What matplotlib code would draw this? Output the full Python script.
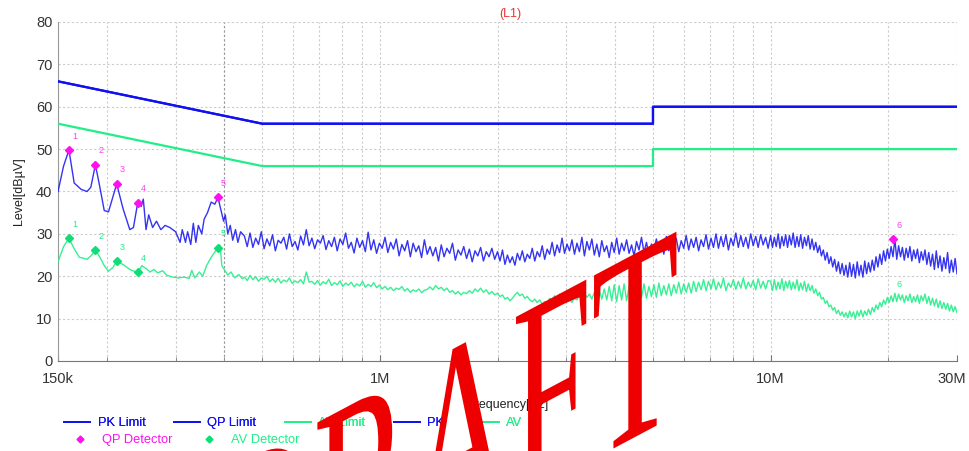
import numpy as np
import matplotlib
matplotlib.use("Agg")
import matplotlib.pyplot as plt
from matplotlib.lines import Line2D
from matplotlib.textpath import TextPath
from matplotlib.patches import PathPatch
from matplotlib.font_manager import FontProperties
from matplotlib.transforms import Affine2D, ScaledTranslation

plt.rcParams['font.family'] = ['Liberation Sans', 'DejaVu Sans']

# ---- limit lines (MHz, dBuV)
limit_f = [0.15, 0.5, 0.5, 5.0, 5.0, 30.0]
pk_limit = [66, 56, 56, 56, 60, 60]
qp_limit = [66, 56, 56, 56, 60, 60]
av_limit = [56, 46, 46, 46, 50, 50]

# ---- PK trace, low band read point by point
pk_low_f = [0.150, 0.155, 0.160, 0.165, 0.172, 0.178, 0.182, 0.187, 0.192, 0.197,
            0.202, 0.207, 0.212, 0.220, 0.229, 0.234, 0.240, 0.245, 0.248, 0.252,
            0.256, 0.262, 0.268, 0.275, 0.282, 0.290, 0.300, 0.308, 0.312, 0.318,
            0.322, 0.328, 0.333, 0.338, 0.343, 0.350, 0.355, 0.362, 0.370, 0.378,
            0.385, 0.392, 0.398, 0.402, 0.408, 0.414, 0.420, 0.427, 0.433, 0.440]
pk_low = [40.0, 46.0, 49.8, 42.0, 40.5, 40.0, 41.0, 46.3, 41.0, 35.5,
          35.2, 38.5, 41.8, 36.0, 31.0, 31.5, 37.4, 36.5, 38.2, 31.0,
          34.5, 31.5, 33.0, 31.0, 32.0, 31.5, 30.5, 28.0, 31.0, 28.0,
          30.5, 27.5, 32.5, 28.0, 32.0, 30.0, 33.5, 35.0, 37.5, 37.0,
          38.6, 35.5, 33.0, 34.5, 30.0, 32.0, 28.5, 31.0, 28.0, 30.5]

# ---- PK trace, swept segments between seg_edges
pk_seg_b = [29.5, 27.0, 30.2, 26.8, 29.0, 27.5, 30.5, 26.5, 28.8, 27.2,
            29.8, 26.0, 28.5, 27.8, 29.2, 26.4, 30.0, 27.0, 28.2, 26.2,
            29.5, 27.4, 31.0, 27.2, 29.0, 26.5, 28.6, 27.8, 29.6, 26.3,
            28.4, 27.0, 29.2, 26.0, 28.8, 27.5, 30.2, 26.6, 28.0, 25.5,
            29.0, 26.8, 28.4, 25.8, 30.4, 26.2, 28.6, 25.4, 27.8, 26.6,
            29.2, 25.6, 28.0, 26.4, 28.8, 24.8, 27.5, 26.0, 28.4, 24.6,
            27.8, 25.8, 27.2, 24.4, 28.6, 25.2, 27.0, 24.8, 26.8, 23.6,
            27.4, 24.6, 26.6, 25.4, 27.8, 23.8, 26.2, 25.0, 27.0, 24.2,
            26.4, 23.4, 26.0, 24.8, 26.8, 23.6, 25.8, 24.6, 26.6, 24.0]
pk_seg_c = [25.8, 23.6, 26.2, 22.8, 25.0, 23.2, 24.6, 22.6, 25.4, 23.8,
            26.0, 23.4, 25.2, 24.2, 26.6, 23.6, 25.8, 24.6, 27.2, 24.0,
            26.4, 25.2, 28.0, 24.8, 27.4, 25.6, 29.0, 25.4, 27.6, 26.0,
            28.6, 25.2, 27.8, 25.8, 29.2, 24.8, 28.2, 26.2, 28.8, 25.0,
            27.6, 24.6, 28.4, 25.8, 27.2, 24.4, 28.0, 25.6, 29.0, 25.2,
            27.8, 26.0, 28.6, 25.4, 27.4, 24.8, 28.2, 26.2, 29.2, 25.6,
            28.0, 25.0, 27.6, 26.4, 28.8, 25.8, 28.2, 25.2, 29.4, 26.0,
            28.6, 26.4, 29.0, 25.8, 28.4, 26.6, 29.6, 26.2, 28.8, 26.8,
            29.2, 26.0, 28.6, 27.0, 29.8, 26.4, 29.0, 26.8, 30.0, 26.6,
            29.4, 27.0, 29.8, 26.2, 29.0, 27.2, 30.2, 26.8, 29.6, 27.0,
            29.2, 26.6, 30.0, 27.2, 29.4, 26.8, 29.8, 27.4, 29.2, 26.6]
pk_seg_d = [29.6, 26.8, 29.2, 27.0, 30.0, 26.6, 29.4, 27.2, 29.8, 26.8,
            29.6, 27.4, 30.2, 26.8, 29.4, 27.0, 29.8, 26.6, 29.2, 27.2,
            29.6, 26.4, 28.8, 26.2,
            28.0, 25.6, 27.2, 24.8, 26.2, 23.8, 25.6, 23.0, 24.6, 22.2,
            24.0, 21.2, 23.4, 20.6, 23.0, 20.2, 22.6,
            19.8, 23.2, 20.0, 22.8, 19.6, 23.4, 20.2, 22.6, 19.8, 23.6, 20.6, 23.2,
            21.0, 23.8, 21.4, 24.6, 22.2, 25.2, 22.8, 26.0, 23.6, 26.4, 24.2, 27.0, 24.6,
            28.8, 24.0, 27.2, 24.6, 26.8, 23.8, 26.6, 24.4, 27.0, 23.6, 26.2, 24.2,
            26.4, 23.2, 25.8, 23.8, 26.2,
            22.8, 25.6, 22.4, 25.2, 21.6, 26.0, 22.0, 24.8, 21.2, 24.4, 21.8, 25.6,
            20.8, 23.8, 21.0, 24.2, 20.6]

# ---- AV trace
av_low_f = [0.150, 0.155, 0.160, 0.165, 0.170, 0.178, 0.183, 0.187, 0.192, 0.197,
            0.202, 0.207, 0.212, 0.220, 0.230, 0.240, 0.246, 0.252, 0.258, 0.264,
            0.270, 0.278, 0.285, 0.295, 0.305, 0.315, 0.325, 0.330, 0.336, 0.345,
            0.352, 0.360, 0.370, 0.380, 0.385, 0.390, 0.394, 0.400, 0.408, 0.416,
            0.425, 0.435, 0.445]
av_low = [23.4, 27.0, 29.0, 26.5, 24.5, 24.0, 25.0, 26.2, 24.5, 22.5,
          21.2, 22.0, 23.5, 22.8, 21.5, 20.9, 22.5, 21.8, 21.0, 21.6,
          20.8, 21.3, 20.2, 19.8, 19.6, 19.8, 19.5, 21.4, 19.6, 21.0,
          20.0, 22.5, 24.5, 26.0, 26.7, 27.3, 22.5, 21.5, 20.3, 21.0,
          19.6, 20.4, 19.4]
av_seg_b = [19.8, 19.0, 20.2, 19.2, 19.9, 18.8, 19.6, 19.3, 20.0, 18.7,
            19.4, 18.6, 19.5, 18.4, 19.1, 18.7, 19.6, 18.3, 18.9, 18.5,
            19.2, 18.2, 21.0, 18.6, 18.8, 18.1, 19.0, 17.9, 18.7, 18.2,
            19.3, 17.8, 18.5, 18.0, 18.9, 17.6, 18.4, 17.9, 18.6, 17.5,
            18.2, 17.7, 18.8, 17.4, 18.1, 17.6, 18.5, 17.3, 17.9, 17.0,
            17.6, 16.8, 17.4, 16.6, 17.2, 16.9, 17.6, 16.5, 17.1, 16.2,
            16.8, 16.4, 17.0, 16.1, 16.7, 16.9, 17.5, 16.8, 17.8, 17.0,
            17.4, 16.6, 17.2, 16.2, 16.6, 15.8, 16.4, 15.6, 16.2, 15.9,
            16.6, 16.0, 17.0, 16.4, 17.2, 16.2, 16.8, 15.8, 16.4, 15.6]
av_seg_c = [16.0, 15.2, 15.6, 14.6, 15.0, 14.2, 14.8, 15.6, 16.2, 15.4,
            15.8, 14.8, 15.2, 14.4, 14.0,
            14.6, 13.8, 14.4, 13.4, 14.0, 13.6, 14.8, 14.2, 15.4, 14.6,
            15.8, 14.8, 15.2, 14.0, 14.6, 13.8, 15.0, 14.4, 15.6, 14.8,
            16.0, 15.0, 15.8,
            14.6, 16.2, 15.0, 16.8, 14.6, 17.0, 14.4, 17.6, 14.2,
            18.0, 14.0, 17.8, 14.4, 18.2, 14.2, 17.6, 14.8, 18.0, 14.6,
            17.8, 15.0, 18.2, 14.8, 17.6, 15.2, 18.0, 15.0, 18.4, 15.4,
            17.8, 15.6, 18.2, 15.4, 18.0, 16.0, 18.6, 15.8, 18.2, 16.2,
            18.4, 16.0, 18.8,
            16.4, 18.6, 16.8, 19.2, 16.6, 18.8, 17.0, 19.4, 16.8, 18.6,
            17.2, 19.6, 16.6, 18.4, 17.4, 19.2, 16.9, 18.8, 17.2, 19.6,
            17.0, 18.6, 17.4, 19.0, 16.8, 19.4, 17.2, 18.8, 17.0, 19.0]
av_seg_d = [18.8, 16.6, 19.2, 16.8, 18.6, 17.0, 19.4, 16.6, 18.8, 17.2,
            19.0, 16.8, 18.6, 17.0, 19.2, 16.6, 18.4, 16.8, 18.8, 16.4,
            18.2, 16.6, 17.8, 16.0,
            17.0, 15.4, 16.2, 14.6, 15.0, 13.6, 14.2, 12.8, 13.2, 12.0,
            12.6, 11.2, 12.0, 10.8, 11.6, 10.4, 11.4,
            10.2, 11.8, 10.4, 11.6, 10.0, 11.8, 10.6, 12.0, 10.4, 11.8, 10.8, 12.2,
            11.0, 12.6, 11.6, 13.2, 12.2, 13.8, 12.8, 14.4, 13.4, 15.0, 13.8, 15.4, 14.0,
            16.0, 14.0, 15.8, 14.4, 15.6, 13.8, 15.4, 14.2, 15.8, 13.8, 15.2, 14.0,
            15.6, 13.6, 15.4, 14.2, 15.8,
            13.6, 15.2, 13.2, 14.8, 13.0, 14.6, 12.6, 14.2, 12.4, 13.8, 12.2, 13.6,
            11.8, 13.2, 11.6, 12.8, 11.4]

seg_edges = [0.45, 2.0, 10.0, 30.0]

# ---- final measurement markers
qp_f = [0.160, 0.187, 0.212, 0.240, 0.385, 20.6]
qp_lv = [49.8, 46.3, 41.8, 37.4, 38.6, 28.8]
av_f = [0.160, 0.187, 0.212, 0.240, 0.385, 20.6]
av_lv = [29.0, 26.2, 23.5, 20.9, 26.7, 14.8]
marker_ids = ['1', '2', '3', '4', '5', '6']

x_ticks = [0.15, 1.0, 10.0, 30.0]
x_ticklabels = ['150k', '1M', '10M', '30M']
y_ticks = [0, 10, 20, 30, 40, 50, 60, 70, 80]

BLUE = '#1010f0'
GREEN = '#22ee88'
MAGENTA = '#ff11ee'


def sweep(low_f, low, segs):
    f = list(low_f)
    v = list(low)
    for i, lv in enumerate(segs):
        last = i == len(segs) - 1
        f += list(np.geomspace(seg_edges[i], seg_edges[i + 1], len(lv), endpoint=last))
        v += lv
    return np.array(f), np.array(v)


pk_f, pk = sweep(pk_low_f, pk_low, [pk_seg_b, pk_seg_c, pk_seg_d])
avt_f, avt = sweep(av_low_f, av_low, [av_seg_b, av_seg_c, av_seg_d])

fig = plt.figure(figsize=(9.69, 4.51), dpi=100)
ax = fig.add_axes([58 / 969, 1 - 361 / 451, 899 / 969, 339 / 451])
ax.set_xscale('log')
ax.set_xlim(0.15, 30)
ax.set_ylim(0, 80)

# grid
ax.set_yticks(y_ticks)
ax.set_xticks(x_ticks)
ax.set_xticklabels(x_ticklabels)
ax.xaxis.set_minor_locator(matplotlib.ticker.LogLocator(base=10, subs=np.arange(2, 10)))
ax.xaxis.set_minor_formatter(matplotlib.ticker.NullFormatter())
ax.grid(True, which='both', axis='x', color='#cccccc', ls=(0, (2, 2)), lw=0.8)
ax.grid(True, which='major', axis='y', color='#cccccc', ls=(0, (2, 2)), lw=0.8)
ax.axvline(0.4, color='#999999', ls=(0, (2, 2)), lw=0.8, zorder=1)
ax.set_axisbelow(True)
for s in ['top', 'right']:
    ax.spines[s].set_visible(False)
ax.spines['left'].set_color('#999999')
ax.spines['bottom'].set_color('#777777')
ax.tick_params(axis='y', length=0, labelsize=10.5, labelcolor='#333333', pad=4)
ax.tick_params(axis='x', which='major', direction='in', length=4, color='#777777',
               labelsize=10.5, labelcolor='#333333', pad=8)
ax.tick_params(axis='x', which='minor', direction='in', length=3, color='#777777')
last_lbl = ax.get_xticklabels()[-1]
last_lbl.set_transform(last_lbl.get_transform()
                       + ScaledTranslation(-5 / 100, 0, fig.dpi_scale_trans))

# limits
ax.plot(limit_f, pk_limit, color=BLUE, lw=1.6, zorder=3)
ax.plot(limit_f, qp_limit, color=BLUE, lw=1.6, zorder=3)
ax.plot(limit_f, av_limit, color=GREEN, lw=1.6, zorder=3)

# traces
ax.plot(pk_f, pk, color=BLUE, lw=1.0, alpha=0.85, zorder=4)
ax.plot(avt_f, avt, color=GREEN, lw=1.0, alpha=0.9, zorder=4)

# markers
ax.plot(qp_f, qp_lv, ls='none', marker='D', ms=4.5, color=MAGENTA, zorder=5)
ax.plot(av_f[:5], av_lv[:5], ls='none', marker='D', ms=4.5, color='#11dd77', zorder=5)
for f, lv, n in zip(qp_f, qp_lv, marker_ids):
    ax.annotate(n, (f, lv), xytext=(4, 10), textcoords='offset points',
                ha='center', va='center', color=MAGENTA, fontsize=6.5, alpha=0.8)
for f, lv, n in zip(av_f, av_lv, marker_ids):
    ax.annotate(n, (f, lv), xytext=(4, 10), textcoords='offset points',
                ha='center', va='center', color=GREEN, fontsize=6.5)

ax.set_ylabel('Level[dBµV]', fontsize=9, color='#222222', labelpad=8)
ax.set_xlabel('Frequency[Hz]', fontsize=9, color='#222222', labelpad=9)
fig.text(510 / 969, 1 - 14 / 451, '(L1)', color='#ee3333', fontsize=9,
         ha='center', va='center')

# legends
h1 = [Line2D([], [], color=BLUE, lw=1.3), Line2D([], [], color=BLUE, lw=1.3),
      Line2D([], [], color=GREEN, lw=1.3), Line2D([], [], color=BLUE, lw=1.3),
      Line2D([], [], color=GREEN, lw=1.3)]
leg1 = fig.legend(h1, ['PK Limit', 'QP Limit', 'AV Limit', 'PK', 'AV'], ncol=5,
                  loc='center left', bbox_to_anchor=(64 / 969, 1 - 423 / 451),
                  frameon=False, fontsize=9.3, handlelength=2.0, handletextpad=0.6,
                  columnspacing=2.2, borderpad=0, borderaxespad=0)
for t, c in zip(leg1.get_texts(), [BLUE, BLUE, GREEN, BLUE, GREEN]):
    t.set_color(c)
h2 = [Line2D([], [], ls='none', marker='D', ms=3.5, color=MAGENTA),
      Line2D([], [], ls='none', marker='D', ms=3.5, color='#11dd77')]
leg2 = fig.legend(h2, ['QP Detector', 'AV Detector'], ncol=2,
                  loc='center left', bbox_to_anchor=(74 / 969, 1 - 440 / 451),
                  frameon=False, fontsize=9.3, handlelength=1.0, handletextpad=1.2,
                  columnspacing=2.3, borderpad=0, borderaxespad=0)
for t, c in zip(leg2.get_texts(), [MAGENTA, GREEN]):
    t.set_color(c)
fig.add_artist(leg1)

# DRAFT watermark
tp = TextPath((0, 0), 'DRAFT', size=1, prop=FontProperties(family='Liberation Serif'))
wm = Affine2D().scale(143, 280).skew_deg(0, 28).translate(210, -212)
patch = PathPatch(wm.transform_path(tp), color='#ee0000', lw=0,
                  transform=Affine2D().scale(1 / 969, 1 / 451) + fig.transFigure,
                  zorder=20)
fig.add_artist(patch)

fig.savefig('out.png', dpi=100)
